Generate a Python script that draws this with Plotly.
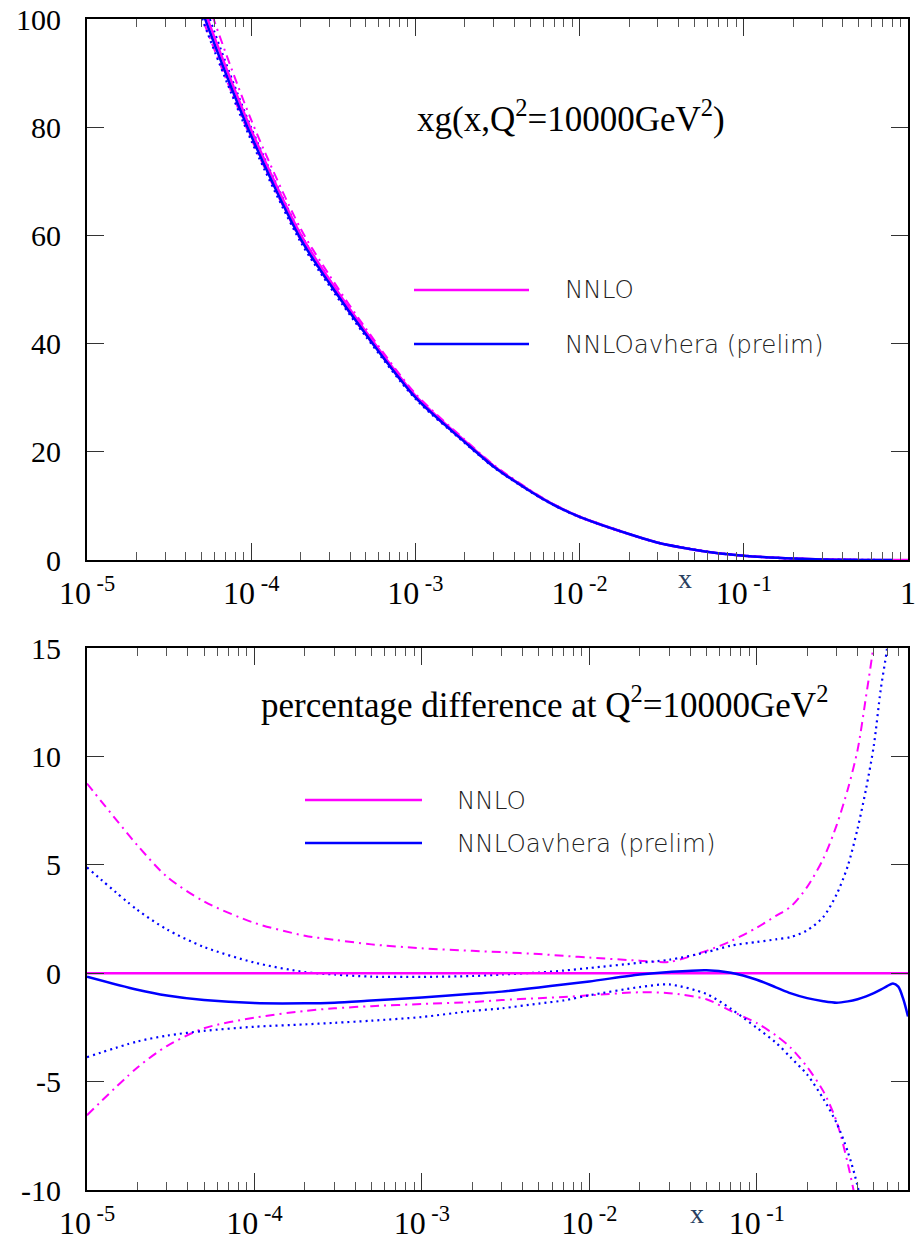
import plotly.graph_objects as go
from plotly.subplots import make_subplots

# ---------------- data ----------------
X = [1e-5, 2e-5, 3e-5, 5e-5, 1e-4, 2e-4, 3e-4, 5e-4, 1e-3, 2e-3,
     3e-3, 5e-3, 7e-3, 1e-2, 2e-2, 3e-2, 5e-2, 0.07, 0.1, 0.13,
     0.16, 0.2, 0.25, 0.3, 0.35, 0.4, 0.45, 0.5, 0.55, 0.6,
     0.65, 0.7, 0.75, 0.8]

# xg(x, Q2=10000) for NNLO (central)
XG_NNLO = [190, 146, 124, 103, 79.5, 60.2, 51.8, 42.2, 30.4, 22.0,
           17.4, 12.8, 10.2, 8.0, 4.8, 3.2, 1.9, 1.25, 0.8, 0.55,
           0.4, 0.27, 0.17, 0.11, 0.07, 0.045, 0.03, 0.02, 0.013, 0.008,
           0.005, 0.003, 0.002, 0.001]
X_TAIL = [0.9, 1.0]
XG_TAIL = [0.0005, 0.0]

# percentage differences relative to NNLO central
NNLO_UP = [8.75, 5.9, 4.45, 3.31, 2.32, 1.73, 1.54, 1.33, 1.15, 1.03,
           0.97, 0.88, 0.8, 0.72, 0.58, 0.52, 1.03, 1.48, 2.1, 2.64,
           3.08, 3.98, 5.29, 6.83, 8.5, 10.3, 12.8, 15.2, 18.0, None,
           None, None, None, None]
NNLO_DN = [-6.55, -4.35, -3.36, -2.54, -2.05, -1.74, -1.62, -1.52, -1.42, -1.33,
           -1.24, -1.15, -1.1, -1.02, -0.88, -0.92, -1.2, -1.74, -2.3, -2.87,
           -3.45, -4.33, -5.45, -6.85, -8.8, -11.0, -14.0, None, None, None,
           None, None, None, None]
AVH = [-0.16, -0.76, -1.03, -1.24, -1.38, -1.39, -1.36, -1.26, -1.12, -0.95,
       -0.85, -0.66, -0.52, -0.38, -0.06, 0.06, 0.14, 0.02, -0.3, -0.65,
       -0.93, -1.15, -1.29, -1.36, -1.3, -1.2, -1.07, -0.92, -0.76, -0.6,
       -0.47, -0.62, -1.2, -2.0]
AVH_UP = [4.88, 2.92, 2.02, 1.21, 0.49, 0.05, -0.06, -0.16, -0.17, -0.13,
          -0.06, 0.03, 0.12, 0.24, 0.48, 0.62, 0.97, 1.27, 1.44, 1.56,
          1.67, 1.98, 2.6, 3.64, 4.96, 6.67, 8.53, 10.5, 13.1, 15.0,
          18.0, None, None, None]
AVH_DN = [-3.87, -3.15, -2.88, -2.66, -2.47, -2.36, -2.29, -2.19, -2.02, -1.74,
          -1.62, -1.40, -1.26, -1.02, -0.64, -0.52, -0.96, -1.64, -2.52, -3.2,
          -3.9, -4.68, -5.8, -6.92, -8.25, -9.82, -12.0, None, None, None,
          None, None, None, None]
ZERO = [0.0] * len(X)

TOP_XTICKS = [1e-5, 1e-4, 1e-3, 1e-2, 1e-1, 1]
TOP_XLABELS = ["10<sup>&nbsp;-5</sup>", "10<sup>&nbsp;-4</sup>", "10<sup>&nbsp;-3</sup>",
               "10<sup>&nbsp;-2</sup>", "10<sup>&nbsp;-1</sup>", "1"]
BOT_XTICKS = [1e-5, 1e-4, 1e-3, 1e-2, 1e-1]
BOT_XLABELS = TOP_XLABELS[:5]
MINOR_X = [m * d for d in [1e-5, 1e-4, 1e-3, 1e-2, 1e-1] for m in range(2, 10)]
TOP_YTICKS = [0, 20, 40, 60, 80, 100]
TOP_YLABELS = ["0", "20", "40", "60", "80", "100"]
BOT_YTICKS = [-10, -5, 0, 5, 10, 15]
BOT_YLABELS = ["-10", "-5", "0", "5", "10", "15"]

MAG = "#ff00ff"
BLU = "#0000ff"
DASHDOT = "9px,5px,2px,5px"
DOT = "2px,4px"


def scale(central, pct):
    return [None if p is None else c * (1 + p / 100.0) for c, p in zip(central, pct)]


fig = make_subplots(rows=2, cols=1)

# ---------- top panel ----------
top = [
    (X, scale(XG_NNLO, NNLO_UP), MAG, DASHDOT, 2),
    (X, scale(XG_NNLO, NNLO_DN), MAG, DASHDOT, 2),
    (X, scale(XG_NNLO, AVH_UP), BLU, DOT, 2.2),
    (X, scale(XG_NNLO, AVH_DN), BLU, DOT, 2.2),
    (X + X_TAIL, XG_NNLO + XG_TAIL, MAG, "solid", 2.5),
    (X, scale(XG_NNLO, AVH), BLU, "solid", 2.5),
]
for xs, ys, c, d, w in top:
    fig.add_trace(go.Scatter(x=xs, y=ys, mode="lines", showlegend=False,
                             line=dict(color=c, dash=d, width=w, shape="spline", smoothing=0.8),
                             connectgaps=False, hoverinfo="skip"), row=1, col=1)

# ---------- bottom panel ----------
bot = [
    (NNLO_UP, MAG, DASHDOT, 2),
    (NNLO_DN, MAG, DASHDOT, 2),
    (AVH_UP, BLU, DOT, 2.2),
    (AVH_DN, BLU, DOT, 2.2),
    (ZERO, MAG, "solid", 2.5),
    (AVH, BLU, "solid", 2.5),
]
for ys, c, d, w in bot:
    fig.add_trace(go.Scatter(x=X, y=ys, mode="lines", showlegend=False,
                             line=dict(color=c, dash=d, width=w, shape="spline", smoothing=0.8),
                             connectgaps=False, hoverinfo="skip"), row=2, col=1)

W, H = 918, 1238
ML, MR, MT, MB = 87, 10, 19, 48
PW = W - ML - MR
PH = H - MT - MB


def px(xp):
    return (xp - ML) / PW


def py(yp):
    return (H - MB - yp) / PH


YTICKFONT = dict(family="Liberation Serif", size=30, color="black")
XTICKFONT = dict(family="Liberation Serif", size=32, color="black")

xcommon = dict(type="log", showgrid=False, zeroline=False, showline=True, automargin=False,
               linecolor="black", linewidth=2, mirror="ticks",
               ticks="inside", ticklen=17, tickwidth=1.2, tickcolor="#333",
               minor=dict(ticks="inside", ticklen=8, tickwidth=1, tickcolor="#555", showgrid=False,
                          tickmode="array", tickvals=MINOR_X),
               tickfont=XTICKFONT, tickmode="array", ticklabelstandoff=4)
ycommon = dict(showgrid=False, zeroline=False, showline=True, automargin=False,
               linecolor="black", linewidth=2, mirror="ticks",
               ticks="inside", ticklen=17, tickwidth=1.2, tickcolor="#333",
               tickfont=YTICKFONT, tickmode="array", ticklabelstandoff=18)

fig.update_xaxes(**xcommon, row=1, col=1, range=[-5, 0], tickvals=TOP_XTICKS, ticktext=TOP_XLABELS,
                 domain=[0, 1])
fig.update_xaxes(**xcommon, row=2, col=1, range=[-5, -0.0969], tickvals=BOT_XTICKS, ticktext=BOT_XLABELS,
                 domain=[0, 1])
fig.update_yaxes(**ycommon, row=1, col=1, range=[0, 100], tickvals=TOP_YTICKS, ticktext=TOP_YLABELS,
                 domain=[py(560), 1])
fig.update_yaxes(**ycommon, row=2, col=1, range=[-10, 15], tickvals=BOT_YTICKS, ticktext=BOT_YLABELS,
                 domain=[0, py(648)])

LEGFONT = dict(family="DejaVu Sans", size=24.5, color="#222", weight=200)
TITLEFONT = dict(family="Liberation Serif", size=35, color="black")

shapes = []
ann = []
# top legend
for yv, c, label in [(290, MAG, "NNLO"), (344, BLU, "NNLOavhera (prelim)")]:
    shapes.append(dict(type="line", xref="paper", yref="paper", x0=px(414), x1=px(529),
                       y0=py(yv), y1=py(yv), line=dict(color=c, width=2.5)))
    ann.append(dict(xref="paper", yref="paper", x=px(563), y=py(yv), text=label, showarrow=False,
                    xanchor="left", yanchor="middle", font=LEGFONT))
# bottom legend
for yv, c, label in [(800, MAG, "NNLO"), (843, BLU, "NNLOavhera (prelim)")]:
    shapes.append(dict(type="line", xref="paper", yref="paper", x0=px(305), x1=px(422),
                       y0=py(yv), y1=py(yv), line=dict(color=c, width=2.5)))
    ann.append(dict(xref="paper", yref="paper", x=px(455), y=py(yv), text=label, showarrow=False,
                    xanchor="left", yanchor="middle", font=LEGFONT))

ann.append(dict(xref="paper", yref="paper", x=px(571), y=py(116),
                text="xg(x,Q<sup>2</sup>=10000GeV<sup>2</sup>)", showarrow=False,
                xanchor="center", yanchor="middle", font=TITLEFONT))
ann.append(dict(xref="paper", yref="paper", x=px(544), y=py(702),
                text="percentage difference at Q<sup>2</sup>=10000GeV<sup>2</sup>", showarrow=False,
                xanchor="center", yanchor="middle", font=TITLEFONT))
ann.append(dict(xref="paper", yref="paper", x=px(685), y=py(578), text="x", showarrow=False,
                xanchor="center", yanchor="middle", font=dict(family="Liberation Serif", size=28)))
ann.append(dict(xref="paper", yref="paper", x=px(697), y=py(1213), text="x", showarrow=False,
                xanchor="center", yanchor="middle", font=dict(family="Liberation Serif", size=28)))

fig.update_layout(width=W, height=H, margin=dict(l=ML, r=MR, t=MT, b=MB, autoexpand=False),
                  plot_bgcolor="white", paper_bgcolor="white",
                  shapes=shapes, annotations=ann, showlegend=False)

fig.write_html("out.html", config={"displayModeBar": False},
               post_script="document.body.style.margin='0';document.body.style.overflow='hidden';")
